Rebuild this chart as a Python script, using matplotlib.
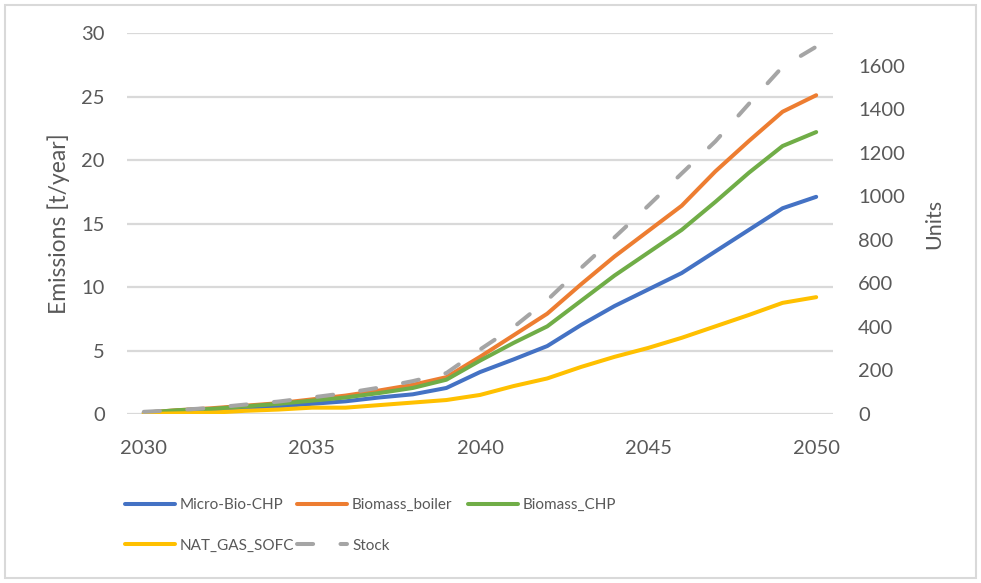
import matplotlib
matplotlib.use('Agg')
import matplotlib.pyplot as plt
from matplotlib.patches import Rectangle

years = list(range(2030, 2051))

micro_bio_chp = [0.05, 0.2, 0.3, 0.45, 0.6, 0.8, 1.0, 1.3, 1.55, 2.05, 3.3,
                 4.3, 5.35, 7.0, 8.5, 9.8, 11.1, 12.8, 14.5, 16.2, 17.1]
biomass_boiler = [0.1, 0.3, 0.45, 0.65, 0.85, 1.15, 1.45, 1.85, 2.3, 2.9, 4.5,
                  6.2, 7.9, 10.2, 12.4, 14.4, 16.4, 19.1, 21.5, 23.8, 25.1]
biomass_chp = [0.1, 0.3, 0.4, 0.6, 0.8, 1.05, 1.3, 1.65, 2.05, 2.7, 4.2,
               5.6, 6.9, 8.9, 10.9, 12.7, 14.5, 16.7, 19.0, 21.1, 22.2]
nat_gas_sofc = [0.0, 0.05, 0.1, 0.25, 0.35, 0.5, 0.5, 0.7, 0.9, 1.1, 1.5,
                2.2, 2.8, 3.7, 4.5, 5.2, 6.0, 6.9, 7.8, 8.75, 9.2]
stock = [10, 18, 28, 43, 57, 76, 96, 121, 151, 188, 296,
         399, 523, 670, 811, 956, 1105, 1252, 1425, 1595, 1687]

plt.rcParams['font.family'] = ['Lato', 'DejaVu Sans']
text_color = '#595959'
grid_color = '#d9d9d9'

fig = plt.figure(figsize=(9.81, 5.83), dpi=100)
ax = fig.add_axes([127 / 981, 1 - 414 / 583, (833 - 127) / 981, (414 - 33) / 583])
ax2 = ax.twinx()

lw = 2.9
style = dict(lw=lw, solid_joinstyle='round', solid_capstyle='round')
h1, = ax.plot(years, micro_bio_chp, color='#4472C4', **style)
h2, = ax.plot(years, biomass_boiler, color='#ED7D31', **style)
h3, = ax.plot(years, biomass_chp, color='#70AD47', **style)
h4, = ax.plot(years, nat_gas_sofc, color='#FFC000', **style)
h5, = ax2.plot(years, stock, color='#A5A5A5', lw=lw, dashes=(4, 6.8), dash_capstyle='round')

ax.set_xlim(2029.5, 2050.5)
ax.set_ylim(0, 30)
ax2.set_ylim(0, 1750)
ax.set_xticks([2030, 2035, 2040, 2045, 2050])
ax.set_yticks(range(0, 31, 5))
ax2.set_yticks(range(0, 1601, 200))

ax.grid(axis='y', color=grid_color, lw=1.6)
ax.set_axisbelow(True)
for a in (ax, ax2):
    for s in a.spines.values():
        s.set_visible(False)
    a.tick_params(length=0, labelsize=14.5, colors=text_color)
ax.tick_params(axis='y', pad=16)
ax.tick_params(axis='x', pad=19)
ax2.tick_params(axis='y', pad=18)

ax.set_ylabel('Emissions [t/year]', fontsize=16.5, color=text_color, labelpad=8)
ax2.set_ylabel('Units', fontsize=15.5, color=text_color, labelpad=14)

# legend: three columns placed like Excel's fixed-width layout
leg_size = 11
em = leg_size * 100 / 72
columns = [([h1, h4], ['Micro-Bio-CHP', 'NAT_GAS_SOFC'], 125),
           ([h2, h5], ['Biomass_boiler', 'Stock'], 297),
           ([h3], ['Biomass_CHP'], 468)]
for hs, ls, x0 in columns:
    leg = fig.legend(hs, ls, loc='upper left',
                     bbox_to_anchor=(x0 / 981, 1 - 498 / 583), frameon=False,
                     fontsize=leg_size, handlelength=50 / em, handletextpad=5 / em,
                     labelspacing=1.75, borderpad=0, borderaxespad=0)
    for t in leg.get_texts():
        t.set_color(text_color)

fig.patches.append(Rectangle((5 / 981, 5 / 583), 971 / 981, 573 / 583,
                             transform=fig.transFigure, fill=False,
                             edgecolor=grid_color, lw=1.5))

fig.savefig('out.png', dpi=100)
